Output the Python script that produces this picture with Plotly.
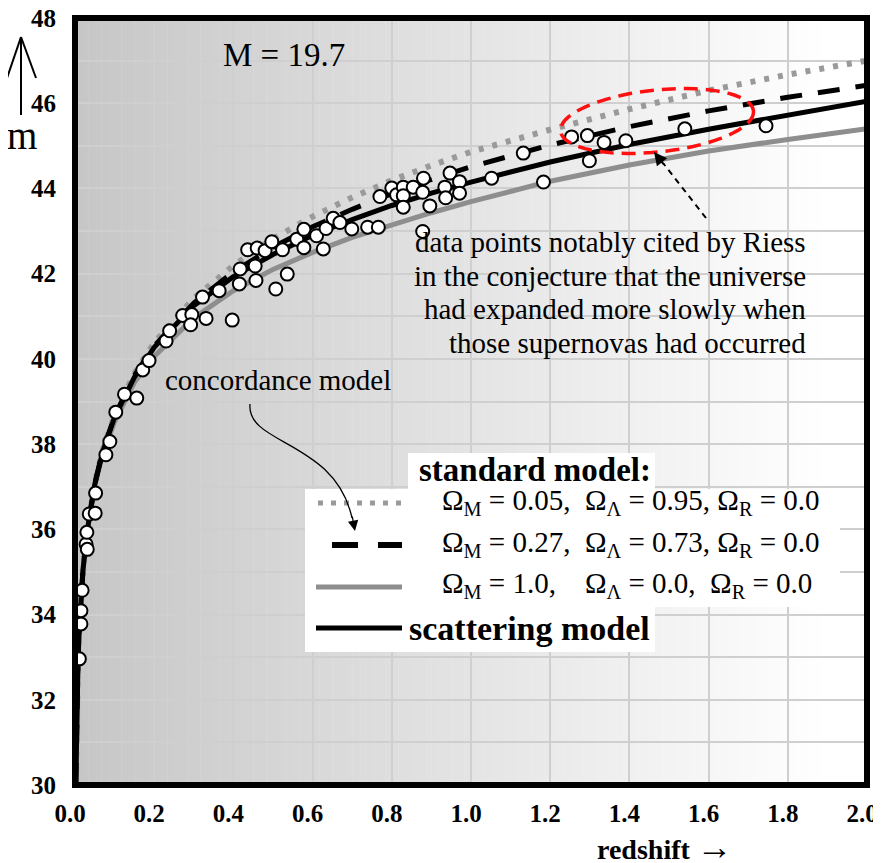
import numpy as np
import plotly.graph_objects as go

# ---------------- data ----------------
curve_z = [0.002, 0.003, 0.005, 0.0075, 0.01, 0.015, 0.02, 0.03, 0.05, 0.07, 0.1, 0.15,
           0.2, 0.3, 0.4, 0.5, 0.6, 0.7, 0.8, 0.9, 1.0, 1.2, 1.4, 1.6, 1.8, 2.0]

m_dotted = [30.00, 30.89, 32.00, 32.88, 33.51, 34.40, 35.04, 35.94, 37.09, 37.86, 38.69, 39.66,
            40.38, 41.42, 42.19, 42.82, 43.34, 43.79, 44.19, 44.54, 44.86, 45.38, 45.86, 46.30, 46.67, 47.00]
m_dashed = [30.00, 30.88, 32.00, 32.88, 33.51, 34.40, 35.03, 35.93, 37.07, 37.84, 38.66, 39.61,
            40.30, 41.31, 42.04, 42.62, 43.10, 43.51, 43.88, 44.21, 44.51, 45.02, 45.45, 45.82, 46.14, 46.42]
m_gray = [30.00, 30.88, 31.99, 32.87, 33.50, 34.38, 35.01, 35.90, 37.02, 37.78, 38.53, 39.45,
          40.06, 40.96, 41.60, 42.10, 42.50, 42.85, 43.15, 43.43, 43.69, 44.17, 44.55, 44.88, 45.15, 45.40]
m_scatter = [30.00, 30.88, 32.00, 32.88, 33.51, 34.40, 35.03, 35.92, 37.06, 37.82, 38.63, 39.57,
             40.27, 41.25, 41.93, 42.45, 42.90, 43.27, 43.60, 43.89, 44.15, 44.62, 45.03, 45.39, 45.73, 46.05]

pts_z = [0.011, 0.015, 0.015, 0.018, 0.028, 0.031, 0.030, 0.036, 0.051, 0.052, 0.078, 0.088,
         0.103, 0.125, 0.156, 0.171, 0.187, 0.230, 0.239, 0.272, 0.295, 0.292, 0.331, 0.397,
         0.322, 0.364, 0.417, 0.415, 0.455, 0.457, 0.507, 0.536, 0.436, 0.460, 0.480, 0.497,
         0.524, 0.560, 0.578, 0.578, 0.610, 0.627, 0.634, 0.652, 0.669, 0.699, 0.739, 0.766,
         0.770, 0.800, 0.812, 0.829, 0.829, 0.854, 0.880, 0.878, 0.829, 0.896, 0.934, 0.936,
         0.947, 0.971, 0.971, 0.878, 1.052, 1.183, 1.132, 1.254, 1.294, 1.336, 1.391, 1.299,
         1.540, 1.745]
pts_m = [32.96, 33.78, 34.09, 34.57, 35.65, 35.53, 35.93, 36.36, 36.38, 36.85, 37.75, 38.06,
         38.75, 39.17, 39.08, 39.74, 39.96, 40.42, 40.66, 41.02, 41.04, 40.80, 40.95, 40.91,
         41.45, 41.60, 42.11, 41.76, 42.18, 41.84, 41.64, 41.99, 42.56, 42.60, 42.54, 42.75,
         42.56, 42.81, 43.04, 42.61, 42.89, 42.58, 43.06, 43.30, 43.20, 43.05, 43.09, 43.09,
         43.81, 44.01, 43.85, 44.03, 43.83, 44.03, 44.24, 43.91, 43.56, 43.59, 44.03, 43.78,
         44.36, 44.16, 43.89, 42.99, 44.24, 44.15, 44.83, 45.21, 45.24, 45.08, 45.12, 44.65,
         45.40, 45.47]

x_tick_vals = [0.0, 0.2, 0.4, 0.6, 0.8, 1.0, 1.2, 1.4, 1.6, 1.8, 2.0]
x_tick_text = ["0.0", "0.2", "0.4", "0.6", "0.8", "1.0", "1.2", "1.4", "1.6", "1.8", "2.0"]
y_tick_vals = [30, 32, 34, 36, 38, 40, 42, 44, 46, 48]
y_tick_text = ["30", "32", "34", "36", "38", "40", "42", "44", "46", "48"]

# ---------------- layout helpers ----------------
# the page body has an 8px margin, so the figure is placed at (8, 8) in the window
OFF = 8
W, H = 881 - OFF, 863 - OFF
PX0, PX1, PY0, PY1 = 75, 867, 18, 785          # plot area in window pixels
L, R, T, B = PX0 - OFF, 881 - PX1, PY0 - OFF, 863 - PY1
PW, PH = PX1 - PX0, PY1 - PY0


def px(X):
    return (X - PX0) / PW


def py(Y):
    return (PY1 - Y) / PH


SERIF = "Liberation Serif, Times New Roman, serif"
GRID = "#cfcfcf"

fig = go.Figure()

fig.add_trace(go.Scatter(x=curve_z, y=m_gray, mode="lines",
                         line=dict(color="#8e8e8e", width=5), hoverinfo="skip"))
fig.add_trace(go.Scatter(x=curve_z, y=m_dotted, mode="lines",
                         line=dict(color="#9a9a9a", width=6, dash="5px,9px"), hoverinfo="skip"))
fig.add_trace(go.Scatter(x=curve_z, y=m_dashed, mode="lines",
                         line=dict(color="black", width=5, dash="22px,16px"), hoverinfo="skip"))
fig.add_trace(go.Scatter(x=curve_z, y=m_scatter, mode="lines",
                         line=dict(color="black", width=5), hoverinfo="skip"))
fig.add_trace(go.Scatter(x=pts_z, y=pts_m, mode="markers",
                         marker=dict(size=13, color="white", line=dict(color="black", width=2))))

shapes = []
# horizontal gradient background (gray -> white)
n_strips = 120
for i in range(n_strips):
    x0 = 2.0 * i / n_strips
    x1 = 2.0 * (i + 1) / n_strips
    t = (i + 0.5) / n_strips
    c = int(round(198 + (255 - 198) * min(1.0, t * 1.05)))
    shapes.append(dict(type="rect", xref="x", yref="y", x0=x0, x1=x1 + 0.001, y0=30, y1=48,
                       fillcolor=f"rgb({c},{c},{c})", line=dict(width=0), layer="below"))

# legend white boxes
def white_box(X0, Y0, X1, Y1):
    shapes.append(dict(type="rect", xref="paper", yref="paper", x0=px(X0), x1=px(X1),
                       y0=py(Y1), y1=py(Y0), fillcolor="white", line=dict(width=0), layer="above"))

white_box(408, 453, 655, 490)
white_box(305, 489, 840, 607)
white_box(305, 606, 655, 652)

# legend line samples
def sample(X0, X1, Y, color, width, dash="solid"):
    shapes.append(dict(type="line", xref="paper", yref="paper", x0=px(X0), x1=px(X1),
                       y0=py(Y), y1=py(Y), line=dict(color=color, width=width, dash=dash)))

sample(318, 402, 503, "#9a9a9a", 5, "5px,8px")
sample(332, 402, 545, "black", 6, "26px,20px")
sample(316, 402, 587, "#8e8e8e", 5)
sample(316, 402, 628, "black", 5)

# plot frame
shapes.append(dict(type="rect", xref="paper", yref="paper", x0=0, x1=1, y0=0, y1=1,
                   line=dict(color="black", width=6), layer="above"))

# up arrow next to "m"
for (a, b, c, d) in [(21, 37, 21, 115), (21, 37, 7, 78), (21, 37, 36, 78)]:
    shapes.append(dict(type="line", xref="paper", yref="paper", x0=px(a), y0=py(b),
                       x1=px(c), y1=py(d), line=dict(color="black", width=2)))

# red dashed ellipse
cx, cy, ea, eb, ang = 657, 121, 97, 31, np.deg2rad(-6)
tt = np.linspace(0, 2 * np.pi, 73)
ex = cx + ea * np.cos(tt) * np.cos(ang) - eb * np.sin(tt) * np.sin(ang)
ey = cy + ea * np.cos(tt) * np.sin(ang) + eb * np.sin(tt) * np.cos(ang)
path = "M " + " L ".join(f"{px(a):.5f},{py(b):.5f}" for a, b in zip(ex, ey)) + " Z"
shapes.append(dict(type="path", xref="paper", yref="paper", path=path,
                   line=dict(color="#ff1010", width=3.5, dash="14px,8px")))

# dashed pointer line
shapes.append(dict(type="line", xref="paper", yref="paper", x0=px(706), y0=py(218),
                   x1=px(663), y1=py(163), line=dict(color="black", width=2, dash="6px,5px")))

# curved pointer from "concordance model"
cp = [(250, 404), (246, 445), (335, 440), (352, 518)]
path2 = "M {} C {} {} {}".format(*[f"{px(a):.5f},{py(b):.5f}" for a, b in cp])
shapes.append(dict(type="path", xref="paper", yref="paper", path=path2,
                   line=dict(color="black", width=1.3)))

annotations = []

def text(s, X, Y, size, xanchor="center", bold=False, color="black"):
    annotations.append(dict(text=s, x=px(X), y=py(Y), xref="paper", yref="paper",
                            xanchor=xanchor, yanchor="middle", showarrow=False,
                            font=dict(family=SERIF, size=size, color=color,
                                      weight="bold" if bold else "normal")))

NB = "\u00a0"
text("M = 19.7", 284, 55, 33)
text("m", 22, 135, 39)
text("concordance model", 278, 380, 29)
riess = ["data points notably cited by Riess",
         "in the conjecture that the universe",
         "had expanded more slowly when",
         "those supernovas had occurred"]
for i, line in enumerate(riess):
    text(line, 808, 242 + i * 33.7, 29, xanchor="right")
text("standard model:", 417, 470, 33, xanchor="left", bold=True)
text(f"Ω<sub>M</sub> = 0.05,{NB}{NB}Ω<sub>Λ</sub> = 0.95, Ω<sub>R</sub> = 0.0", 440, 502, 29, xanchor="left")
text(f"Ω<sub>M</sub> = 0.27,{NB}{NB}Ω<sub>Λ</sub> = 0.73, Ω<sub>R</sub> = 0.0", 440, 544, 29, xanchor="left")
text(f"Ω<sub>M</sub> = 1.0,{NB}{NB}{NB}{NB}Ω<sub>Λ</sub> = 0.0,{NB}{NB}Ω<sub>R</sub> = 0.0", 440, 585, 29, xanchor="left")
text("scattering model", 407, 628, 34, xanchor="left", bold=True)
text("redshift <span style='font-size:36px'>→</span>", 665, 847, 28, bold=True)

# arrowheads
annotations.append(dict(x=px(355), y=py(531), xref="paper", yref="paper", text="",
                        showarrow=True, ax=-3, ay=-16, arrowhead=2, arrowsize=1.6,
                        arrowwidth=1.3, arrowcolor="black"))
annotations.append(dict(x=px(654), y=py(152), xref="paper", yref="paper", text="",
                        showarrow=True, ax=11, ay=14, arrowhead=2, arrowsize=1.3,
                        arrowwidth=2, arrowcolor="black"))

fig.update_layout(
    width=W, height=H,
    margin=dict(l=L, r=R, t=T, b=B, autoexpand=False),
    paper_bgcolor="white", plot_bgcolor="white",
    showlegend=False,
    shapes=shapes, annotations=annotations,
    xaxis=dict(range=[0, 2], tickvals=x_tick_vals, ticktext=x_tick_text,
               showgrid=True, gridcolor=GRID, gridwidth=1.5, zeroline=False,
               showline=False, ticks="", ticklabelstandoff=11, ticklabelshift=-5,
               automargin=False, ticklabeloverflow="allow",
               tickfont=dict(family=SERIF, size=25, color="black", weight="bold")),
    yaxis=dict(range=[30, 48], tickvals=y_tick_vals, ticktext=y_tick_text,
               showgrid=True, gridcolor=GRID, gridwidth=1.5, zeroline=False,
               showline=False, ticks="", ticklabelstandoff=18, automargin=False,
               ticklabeloverflow="allow",
               minor=dict(dtick=1, tick0=30, showgrid=True, gridcolor=GRID, gridwidth=1.5, ticks=""),
               tickfont=dict(family=SERIF, size=25, color="black", weight="bold")),
)

fig.write_html("out.html")
